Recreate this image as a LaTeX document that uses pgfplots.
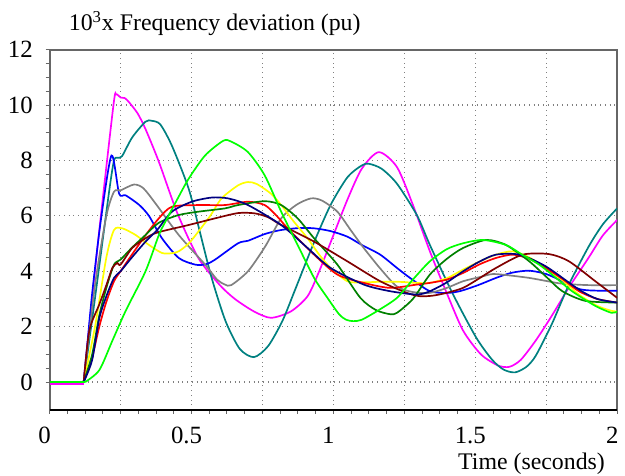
\documentclass[border=0pt]{standalone}
\usepackage{pgfplots}
\pgfplotsset{compat=1.18}
\usepackage{fontspec}
\setmainfont{Liberation Serif}

\definecolor{cMag}{RGB}{255,0,255}
\definecolor{cTeal}{RGB}{0,128,128}
\definecolor{cBlue}{RGB}{0,0,255}
\definecolor{cGray}{RGB}{128,128,128}
\definecolor{cYel}{RGB}{255,255,0}
\definecolor{cRed}{RGB}{255,0,0}
\definecolor{cDkGreen}{RGB}{0,128,0}
\definecolor{cMaroon}{RGB}{128,0,0}
\definecolor{cNavy}{RGB}{0,0,128}
\definecolor{cLime}{RGB}{0,255,0}

\begin{document}
\begin{tikzpicture}
\begin{axis}[
    scale only axis,
    width=286bp, height=181.5bp,
    xmin=0, xmax=2, ymin=-1, ymax=12,
    clip mode=individual,
    xtick={0,0.25,...,2},
    xticklabels={0,,0.5,,1,,1.5,,2},
    minor x tick num=3,
    ytick={0,2,...,12},
    minor y tick num=3,
    tick pos=left,
    tick align=outside,
    major tick length=2bp,
    minor tick length=2bp,
    tick style={gray!80!black, line width=0.5bp},
    grid=major,
    major grid style={gray, dotted, line width=0.6bp},
    axis line style={gray!80!black, line width=0.9bp},
    /pgf/number format/assume math mode=true,
    tick label style={font=\rmfamily\fontsize{12.5bp}{14bp}\selectfont},
    xticklabel style={yshift=-3bp, xshift=-2.5bp},
    yticklabel style={xshift=-3bp},
    title={10\textsuperscript{3}x Frequency deviation (pu)},
    title style={at={(axis description cs:0,1)}, anchor=base west, inner sep=0pt,
                 xshift=9.5bp, yshift=3.5bp, font=\rmfamily\fontsize{12bp}{14bp}\selectfont},
    xlabel={Time (seconds)},
    xlabel style={at={(axis description cs:1,0)}, anchor=base east, inner sep=0pt,
                  xshift=-6bp, yshift=-30bp, font=\rmfamily\fontsize{12bp}{14bp}\selectfont},
    every axis plot/.append style={line width=0.85bp, smooth, tension=0.45},
]
% flat part before the disturbance
\addplot[cMag, sharp plot] coordinates {(0,-0.06) (0.12,-0.06)};
% magenta
\addplot[cMag] coordinates {
(0.12,0) (0.17,5.0) (0.225,10.0) (0.235,10.38) (0.25,10.27) (0.265,10.25) (0.28,10.1)
(0.31,9.7) (0.338,9.13) (0.385,7.95) (0.45,6.1) (0.524,4.48) (0.6,3.5) (0.653,3.0)
(0.72,2.55) (0.78,2.32) (0.85,2.55) (0.909,3.1) (0.95,4.0) (1.0,5.3) (1.05,6.6)
(1.1,7.7) (1.16,8.3) (1.224,7.76) (1.28,6.4) (1.34,4.72) (1.40,3.2) (1.457,1.86)
(1.52,1.0) (1.58,0.6) (1.62,0.55) (1.66,0.8) (1.713,1.5) (1.77,2.4) (1.829,3.4)
(1.9,4.5) (1.95,5.3) (2.0,5.85)};
% teal
\addplot[cTeal] coordinates {
(0.12,0) (0.17,3.8) (0.21,6.9) (0.227,8.0) (0.24,8.1) (0.255,8.15) (0.291,8.83)
(0.338,9.4) (0.36,9.43) (0.39,9.3)
(0.431,8.53) (0.49,6.98) (0.53,5.4) (0.571,3.76) (0.62,2.2) (0.67,1.2) (0.72,0.9)
(0.77,1.3) (0.82,2.2) (0.863,3.28) (0.93,5.0) (0.99,6.39) (1.05,7.4) (1.1,7.82)
(1.125,7.88) (1.17,7.7) (1.224,7.16) (1.294,6.03) (1.34,4.95) (1.42,3.2) (1.503,1.61)
(1.56,0.8) (1.6,0.45) (1.64,0.35) (1.68,0.55) (1.713,0.95) (1.77,2.1) (1.83,3.52)
(1.9,4.9) (1.95,5.7) (2.0,6.27)};
% blue
\addplot[cBlue] coordinates {
(0.12,0) (0.135,1.6) (0.151,3.3) (0.18,5.8) (0.218,8.18) (0.245,6.8) (0.268,6.74)
(0.315,6.4) (0.35,6.0) (0.396,5.19) (0.455,4.48) (0.513,4.24) (0.55,4.25) (0.583,4.42)
(0.664,5.01) (0.699,5.1) (0.76,5.35) (0.816,5.49) (0.88,5.56) (0.932,5.55) (0.99,5.45)
(1.049,5.25) (1.1,4.95) (1.165,4.6) (1.224,4.12) (1.27,3.76) (1.34,3.28) (1.40,3.22)
(1.445,3.28) (1.51,3.5) (1.573,3.76) (1.63,3.95) (1.69,4.02) (1.75,3.9) (1.807,3.64)
(1.87,3.35) (1.93,3.3) (2.0,3.3)};
% gray
\addplot[cGray] coordinates {
(0.12,0) (0.16,3.5) (0.2,6.0) (0.227,6.87) (0.25,6.92) (0.297,7.13) (0.33,7.0)
(0.373,6.45) (0.455,5.31) (0.548,4.24) (0.59,3.7) (0.618,3.52) (0.64,3.5) (0.699,4.0)
(0.76,4.9) (0.816,5.91) (0.87,6.4) (0.921,6.63) (0.96,6.55) (1.014,6.15) (1.06,5.5)
(1.107,4.84) (1.165,4.1) (1.224,3.45) (1.28,3.25) (1.34,3.22) (1.40,3.4) (1.457,3.64)
(1.52,3.8) (1.562,3.9) (1.62,3.85) (1.69,3.76) (1.75,3.65) (1.807,3.55) (1.9,3.5) (2.0,3.5)};
% yellow
\addplot[cYel] coordinates {
(0.12,0) (0.16,2.0) (0.2,4.5) (0.227,5.49) (0.256,5.55) (0.303,5.31) (0.35,4.95)
(0.396,4.66) (0.43,4.65) (0.455,4.72) (0.49,5.0) (0.524,5.43) (0.566,6.0) (0.606,6.63)
(0.664,7.1) (0.699,7.22) (0.73,7.15) (0.78,6.8) (0.816,6.39) (0.86,5.8) (0.909,5.19)
(0.95,4.6) (0.99,4.12) (1.049,3.64) (1.1,3.6) (1.165,3.62) (1.23,3.62) (1.294,3.58)
(1.34,3.58) (1.40,3.75) (1.457,4.06) (1.515,4.35) (1.573,4.6) (1.632,4.72) (1.69,4.5)
(1.748,4.12) (1.81,3.65) (1.865,3.16) (1.93,2.75) (1.981,2.57) (2.0,2.55)};
% red
\addplot[cRed] coordinates {
(0.12,0) (0.15,0.9) (0.175,2.0) (0.2,2.9) (0.227,3.64) (0.25,4.0) (0.29,4.6) (0.338,5.3)
(0.385,5.91) (0.431,6.33) (0.524,6.39) (0.618,6.39) (0.699,6.51) (0.758,6.39) (0.80,6.0)
(0.839,5.55) (0.932,4.6) (1.014,3.88) (1.107,3.58) (1.2,3.4) (1.294,3.52) (1.34,3.58)
(1.40,3.7) (1.457,3.94) (1.515,4.25) (1.573,4.48) (1.632,4.6) (1.69,4.45) (1.748,4.12)
(1.81,3.7) (1.865,3.28) (1.93,3.0) (2.0,2.87)};
% dark green
\addplot[cDkGreen] coordinates {
(0.12,0) (0.15,1.0) (0.175,2.4) (0.2,3.4) (0.227,4.24) (0.25,4.42) (0.29,4.85) (0.338,5.31)
(0.385,5.75) (0.455,6.03) (0.524,6.15) (0.618,6.27) (0.664,6.39) (0.758,6.53) (0.816,6.39)
(0.874,5.91) (0.932,5.19) (1.014,4.24) (1.095,3.04) (1.15,2.6) (1.2,2.45) (1.224,2.5)
(1.28,3.0) (1.34,3.88) (1.40,4.45) (1.457,4.84) (1.538,5.13) (1.608,4.95) (1.69,4.36)
(1.75,3.8) (1.807,3.28) (1.888,2.93) (2.0,2.87)};
% maroon
\addplot[cMaroon] coordinates {
(0.12,0) (0.14,1.86) (0.175,2.8) (0.2,3.5) (0.221,4.12) (0.239,4.3) (0.25,4.24) (0.291,4.84)
(0.338,5.19) (0.38,5.4) (0.49,5.67) (0.583,5.91) (0.664,6.1) (0.723,6.09) (0.77,5.95)
(0.816,5.67) (0.932,5.07) (1.049,4.36) (1.165,3.64) (1.259,3.22) (1.305,3.1) (1.35,3.12)
(1.399,3.22) (1.457,3.4) (1.515,3.75) (1.573,4.12) (1.667,4.6) (1.76,4.62) (1.83,4.36)
(1.923,3.64) (2.0,3.04)};
% navy
\addplot[cNavy] coordinates {
(0.12,0) (0.15,0.8) (0.175,2.3) (0.2,3.1) (0.227,3.76) (0.25,4.0) (0.29,4.5) (0.338,5.07)
(0.379,5.49) (0.431,6.15) (0.501,6.51) (0.571,6.66) (0.629,6.63) (0.699,6.39) (0.816,5.67)
(0.909,4.84) (0.99,4.12) (1.107,3.52) (1.2,3.28) (1.294,3.16) (1.34,3.28) (1.40,3.6)
(1.457,4.0) (1.515,4.35) (1.573,4.6) (1.655,4.6) (1.748,4.18) (1.865,3.34) (1.93,3.0) (2.0,2.87)};
% lime
\addplot[cLime, sharp plot] coordinates {(0,0) (0.125,0)};
\addplot[cLime] coordinates {
(0.125,0) (0.175,0.43) (0.221,1.49) (0.268,2.57) (0.338,4.0) (0.385,5.31) (0.408,5.79)
(0.45,6.6) (0.49,7.34) (0.548,8.18) (0.612,8.71) (0.64,8.68) (0.699,8.3) (0.758,7.46)
(0.816,6.15) (0.874,4.95) (0.932,3.76) (0.979,3.04) (1.02,2.45) (1.045,2.25) (1.07,2.2)
(1.1,2.25) (1.16,2.6) (1.224,3.04) (1.28,3.7) (1.34,4.36) (1.40,4.8) (1.457,5.01) (1.527,5.13)
(1.608,4.95) (1.665,4.6) (1.725,4.24) (1.78,3.8) (1.841,3.28) (1.923,2.75) (1.98,2.5) (2.0,2.55)};
% black bottom axis line
\draw[black, line width=0.9bp] (rel axis cs:0,0) -- (rel axis cs:1,0);
\coordinate (TL) at (rel axis cs:0,1);
\coordinate (BR) at (rel axis cs:1,0);
\coordinate (BL) at (rel axis cs:0,0);
\end{axis}
% margins of the picture around the axis
\path ([xshift=-25bp, yshift=-33bp]BL) rectangle ([xshift=1.5bp, yshift=25bp]TL -| BR);
\end{tikzpicture}
\end{document}
